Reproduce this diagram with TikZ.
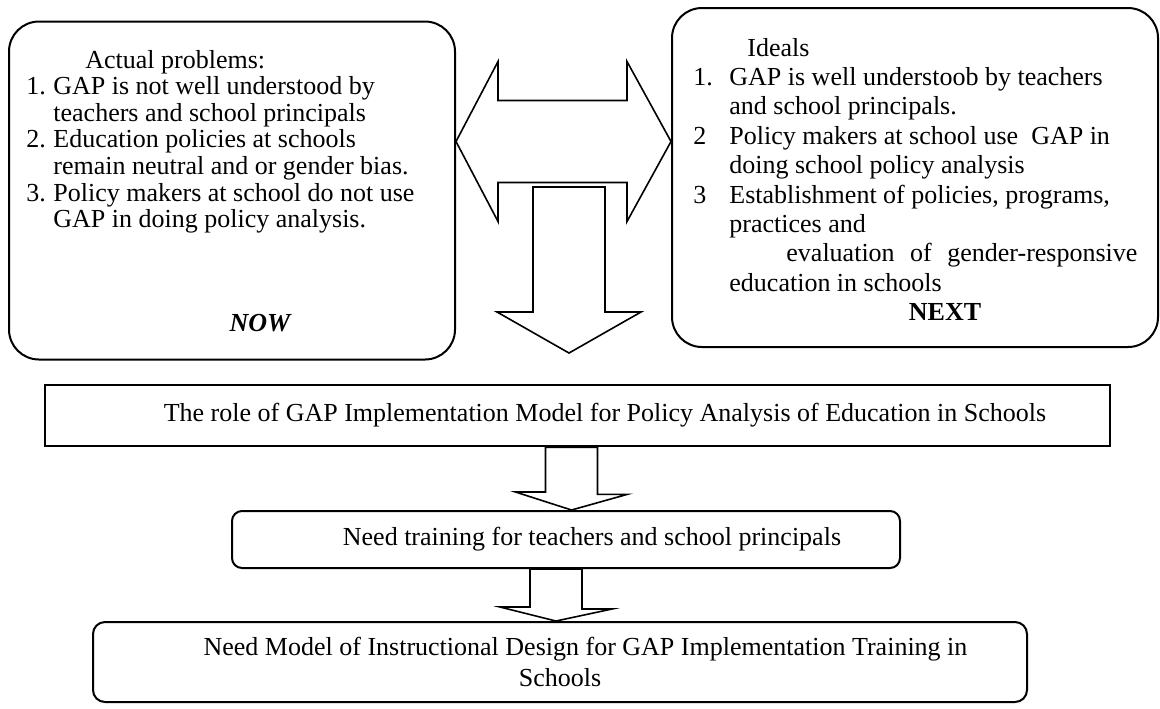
\documentclass[tikz,border=0pt]{standalone}
\usepackage{fontspec}
\setmainfont{Liberation Serif}
\usetikzlibrary{positioning,calc}

\tikzset{
    roundbox/.style={draw, line width=1pt, rounded corners=15pt, inner sep=0pt},
    flatbox/.style={draw, line width=1.3pt, inner sep=0pt},
    softbox/.style={draw, line width=1pt, rounded corners=5pt, inner sep=0pt, align=center},
    blockarrow/.style={draw, line width=0.8pt, line join=miter, fill=white}
}

\begin{document}
\begin{tikzpicture}[x=0.5pt, y=-0.5pt, font=\fontsize{13}{14}\selectfont]
    \useasboundingbox (0,0) rectangle (1160,708);

    \node[roundbox, minimum width=223pt, minimum height=169pt] (now) at (232,190.5) {};
    \node[roundbox, minimum width=243pt, minimum height=169.5pt] (next) at (915,177.5) {};

    \node[anchor=base west, inner sep=0pt, font=\fontsize{13}{13.3}\selectfont] (nowlist) at (26,68) {\begin{tabular}[t]{@{}p{13.5pt}@{}l@{}}
        \multicolumn{2}{@{}l@{}}{\hspace*{29.5pt}Actual problems:}\\
        1. & GAP is not well understood by\\
           & teachers and school principals\\
        2. & Education policies at schools\\
           & remain neutral and or gender bias.\\
        3. & Policy makers at school do not use\\
           & GAP in doing policy analysis.
    \end{tabular}};
    \node (nowlabel) at (260,323) {\bfseries\itshape NOW};

    \node[anchor=base west, inner sep=0pt, font=\fontsize{13}{14.7}\selectfont] (nextlist) at (693,56) {\begin{tabular}[t]{@{}p{18pt}@{}l@{}}
        \multicolumn{2}{@{}l@{}}{\hspace*{27pt}Ideals}\\
        1. & GAP is well understoob by teachers\\
           & and school principals.\\
        2  & Policy makers at school use~ GAP in\\
           & doing school policy analysis\\
        3  & Establishment of policies, programs,\\
           & practices and\\
           & \hspace*{28.5pt}\makebox[175.5pt][s]{evaluation\hfill of\hfill gender-responsive}\\
           & education in schools
    \end{tabular}};
    \node (nextlabel) at (945,312) {\bfseries NEXT};

    \node[flatbox, minimum width=532.5pt, minimum height=30.5pt] (role) at (577.5,415.5)
        {\hspace*{27.5pt}The role of GAP Implementation Model for Policy Analysis of Education in Schools};
    \node[softbox, minimum width=334pt, minimum height=28.5pt] (train) at (566,539.5)
        {\hspace*{26pt}Need training for teachers and school principals};
    \node[softbox, rounded corners=6pt, minimum width=467pt, minimum height=40pt, font=\fontsize{13}{15.5}\selectfont] (design) at (560,662)
        {\hspace*{25.5pt}Need Model of Instructional Design for GAP Implementation Training in\\Schools};

    % block arrows
    \coordinate (dl) at ($(now.east)+(0,-49)$);
    \coordinate (dr) at (next.west |- dl);
    \draw[blockarrow] (dl) -- ++(42,-80) -- ++(0,39) -- ($(dr)+(-44,-41)$) -- ++(0,-39) -- (dr)
        -- ++(-44,80) -- ++(0,-39) -- ($(dl)+(42,41)$) -- ++(0,39) -- cycle;

    \coordinate (dtop) at (569,187);
    \draw[blockarrow] ($(dtop)+(-36,0)$) -- ++(72,0) -- ++(0,125) -- ++(36,0) -- ++(-72,41)
        -- ++(-72,-41) -- ++(36,0) -- cycle;

    \coordinate (a1) at ($(role.south)+(-6,0)$);
    \draw[blockarrow] ($(a1)+(-26,0)$) -- ++(52,0) -- ++(0,47) -- ++(30,0) -- (a1 |- train.north)
        -- ++(-56,-18) -- ++(30,0) -- cycle;

    \coordinate (a2) at ($(train.south)+(-10,0)$);
    \draw[blockarrow] ($(a2)+(-26,0)$) -- ++(52,0) -- ++(0,40) -- ++(30,0) -- (a2 |- design.north)
        -- ++(-56,-14) -- ++(30,0) -- cycle;
\end{tikzpicture}
\end{document}
